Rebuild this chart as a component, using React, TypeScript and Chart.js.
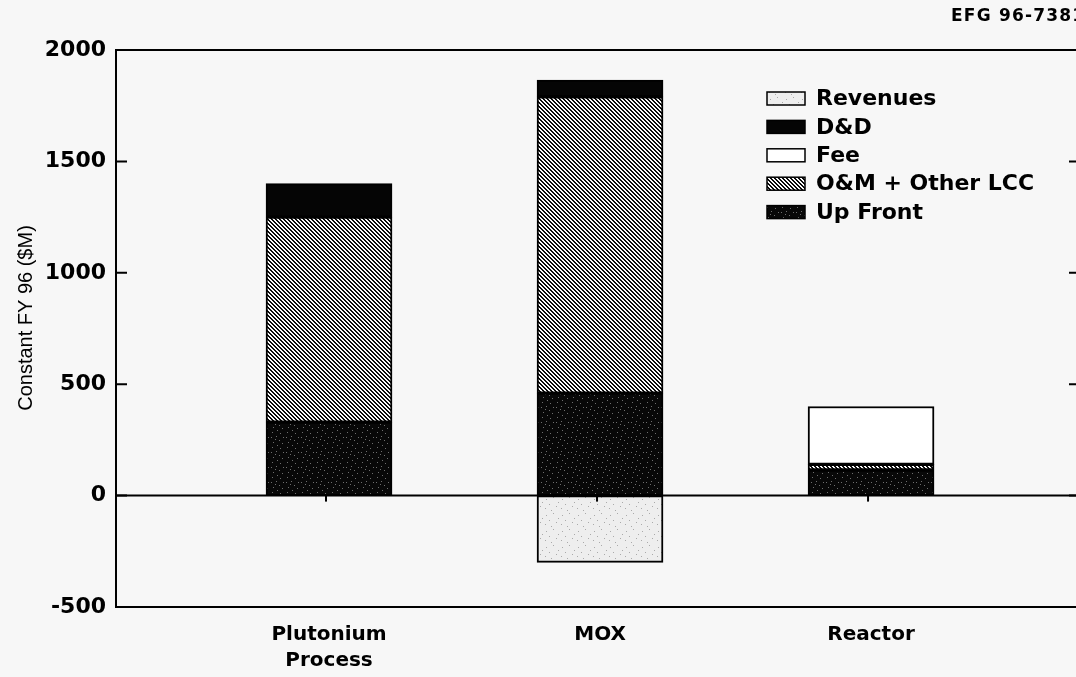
import React, { useEffect, useRef } from 'react';
import { Chart, registerables } from 'chart.js';

Chart.register(...registerables);

const categories: string[][] = [['Plutonium', 'Process'], ['MOX'], ['Reactor']];
const upFront = [330, 460, 115];
const omOther = [920, 1330, 25];
const fee = [0, 0, 260];
const dAndD = [150, 75, 0];
const revenues = [0, -300, 0];
const yTickValues = [-500, 0, 500, 1000, 1500, 2000];
const legendOrder = ['Revenues', 'D&D', 'Fee', 'O&M + Other LCC', 'Up Front'];
const yTitle = 'Constant FY 96 ($M)';
const header = 'EFG 96-7381';

function tile(w: number, h: number, draw: (img: ImageData) => void): CanvasPattern | string {
  const c = document.createElement('canvas');
  c.width = w;
  c.height = h;
  const ctx = c.getContext('2d');
  if (!ctx) return '#000';
  const img = ctx.createImageData(w, h);
  draw(img);
  ctx.putImageData(img, 0, 0);
  const p = document.createElement('canvas').getContext('2d')!.createPattern(c, 'repeat');
  return p || '#000';
}

function setPx(img: ImageData, x: number, y: number, v: number) {
  const i = (y * img.width + x) * 4;
  img.data[i] = v;
  img.data[i + 1] = v;
  img.data[i + 2] = v;
  img.data[i + 3] = 255;
}

function speckle(base: number, dot: number, dots: number[][], w: number, h: number) {
  return tile(w, h, (img) => {
    for (let y = 0; y < h; y++) for (let x = 0; x < w; x++) setPx(img, x, y, base);
    dots.forEach(([x, y]) => setPx(img, x, y, dot));
  });
}

function hatch() {
  const n = 4;
  return tile(n, n, (img) => {
    for (let y = 0; y < n; y++)
      for (let x = 0; x < n; x++) {
        const d = (((x - y) % n) + n) % n;
        setPx(img, x, y, d === 0 || d === 1 ? 10 : 250);
      }
  });
}

export default function App() {
  const ref = useRef<HTMLCanvasElement | null>(null);

  useEffect(() => {
    document.body.style.margin = '0';
    document.body.style.overflow = 'hidden';
    document.body.style.background = '#f7f7f7';
    const canvas = ref.current;
    if (!canvas) return;

    const upFrontFill = speckle(8, 110, [[1, 2], [6, 1], [9, 5], [3, 7], [12, 8], [7, 10], [2, 12], [10, 13], [5, 4], [13, 2]], 15, 15);
    const revenueFill = speckle(238, 170, [[2, 3], [9, 1], [5, 8], [12, 10], [1, 12], [14, 6], [7, 14]], 16, 16);
    const omFill = hatch();

    const mk = (arr: number[]) => arr.map((v, i) => ({ x: i, y: v === 0 ? null : v }));
    const common = { borderColor: '#000', borderWidth: 2, borderSkipped: false as const, barThickness: 126 };

    const datasets: any[] = [
      { label: 'Up Front', data: mk(upFront), backgroundColor: upFrontFill, ...common },
      { label: 'O&M + Other LCC', data: mk(omOther), backgroundColor: omFill, ...common },
      { label: 'Fee', data: mk(fee), backgroundColor: '#ffffff', ...common },
      { label: 'D&D', data: mk(dAndD), backgroundColor: '#050505', ...common },
      { label: 'Revenues', data: mk(revenues), backgroundColor: revenueFill, ...common },
    ];

    const deco = {
      id: 'deco',
      afterDatasetsDraw(chart: any) {
        const { ctx, chartArea: a, scales } = chart;
        const ys = scales.y;
        const xs = scales.x;
        ctx.save();
        ctx.strokeStyle = '#000';
        ctx.lineWidth = 2;
        ctx.beginPath();
        ctx.moveTo(a.left - 1, a.top);
        ctx.lineTo(a.right, a.top);
        ctx.stroke();
        const y0 = ys.getPixelForValue(0);
        ctx.beginPath();
        ctx.moveTo(a.left, y0);
        ctx.lineTo(a.right, y0);
        ctx.stroke();
        yTickValues.forEach((v) => {
          const py = ys.getPixelForValue(v);
          ctx.beginPath();
          ctx.moveTo(a.left, py);
          ctx.lineTo(a.left + 11, py);
          ctx.moveTo(a.right - 11, py);
          ctx.lineTo(a.right, py);
          ctx.stroke();
        });
        categories.forEach((_, i) => {
          const px = xs.getPixelForValue(i) - 3;
          ctx.beginPath();
          ctx.moveTo(px, y0);
          ctx.lineTo(px, y0 + 6);
          ctx.stroke();
        });
        ctx.font = 'bold 22px "DejaVu Sans"';
        ctx.textBaseline = 'middle';
        ctx.textAlign = 'left';
        legendOrder.forEach((name, i) => {
          const ds = chart.data.datasets.find((d: any) => d.label === name);
          const cy = 98.5 + i * 28.4;
          ctx.fillStyle = ds.backgroundColor;
          ctx.fillRect(767, cy - 6.5, 38, 13);
          ctx.lineWidth = 1.5;
          ctx.strokeRect(767, cy - 6.5, 38, 13);
          ctx.fillStyle = '#000';
          ctx.fillText(name, 816, cy + 1);
        });
        ctx.save();
        ctx.translate(26, 318);
        ctx.rotate(-Math.PI / 2);
        ctx.font = '20px "Liberation Sans"';
        ctx.textAlign = 'center';
        ctx.textBaseline = 'middle';
        ctx.fillStyle = '#000';
        ctx.fillText(yTitle, 0, 0);
        ctx.restore();
        ctx.font = 'bold 17px "DejaVu Sans"';
        (ctx as any).letterSpacing = '1.2px';
        ctx.textAlign = 'left';
        ctx.textBaseline = 'middle';
        ctx.fillStyle = '#000';
        ctx.fillText(header, 951, 17);
        ctx.restore();
      },
    };

    const chart = new Chart(canvas, {
      type: 'bar',
      data: { datasets },
      plugins: [deco],
      options: {
        animation: false,
        responsive: false,
        devicePixelRatio: 1,
        layout: { padding: { top: 50, right: 10, left: 0, bottom: 0 } },
        plugins: { legend: { display: false }, tooltip: { enabled: false } },
        scales: {
          x: {
            type: 'linear',
            min: -0.786,
            max: 2.771,
            offset: false,
            stacked: true,
            grid: { display: false, drawTicks: false, offset: false },
            border: { display: true, color: '#000', width: 2 },
            afterBuildTicks: (s: any) => {
              s.ticks = categories.map((_, i) => ({ value: i }));
            },
            afterFit: (s: any) => {
              s.height = 70;
            },
            ticks: {
              autoSkip: false,
              maxRotation: 0,
              padding: 15,
              color: '#000',
              font: { family: 'DejaVu Sans', weight: 'bold', size: 20, lineHeight: 1.3 },
              callback: (v: any) => categories[Math.round(Number(v))] ?? '',
            },
          },
          y: {
            min: -500,
            max: 2000,
            stacked: true,
            grid: { display: false, drawTicks: false },
            border: { display: true, color: '#000', width: 2 },
            afterBuildTicks: (s: any) => {
              s.ticks = yTickValues.map((v) => ({ value: v }));
            },
            afterFit: (s: any) => {
              s.width = 116;
            },
            ticks: {
              padding: 10,
              color: '#000',
              font: { family: 'DejaVu Sans', weight: 'bold', size: 22 },
              callback: (v: any) => String(v),
            },
          },
        },
      } as any,
    });
    return () => chart.destroy();
  }, []);

  return (
    <div style={{ position: 'relative', width: 1076, height: 677, overflow: 'hidden', background: '#f7f7f7' }}>
      <canvas ref={ref} width={1090} height={677} style={{ width: 1090, height: 677, display: 'block' }} />
    </div>
  );
}
